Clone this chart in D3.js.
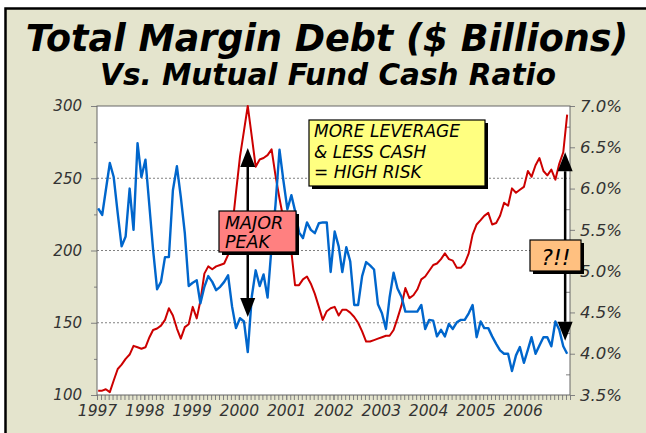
<!DOCTYPE html>
<html>
<head>
<meta charset="utf-8">
<script src="https://cdn.jsdelivr.net/npm/d3@7/dist/d3.min.js"></script>
<style>
    body { margin: 0; background: #fff; }
    svg text { font-family: "DejaVu Sans", Verdana, sans-serif; }
    .axe text { font-style: italic; fill: #333; }
    .axe line { stroke: #808080; }
    .axe path { display: none; }
</style>
</head>
<body>
<div id="chart"></div>
<script>
// données mensuelles, janvier 1997 -> décembre 2006
const annees = ["1997","1998","1999","2000","2001","2002","2003","2004","2005","2006"];

// dette sur marge totale ($ milliards) - axe gauche
const margeDette = [
    103,103,104,102,110,118,121,125,128,134,
    133,132,133,140,145,146,148,152,160,155,
    146,139,147,149,161,153,165,184,189,187,
    189,190,191,197,215,240,265,283,300,279,
    258,263,264,266,270,252,236,222,211,199,
    176,176,180,182,177,170,161,152,158,160,
    161,155,159,159,157,154,150,144,137,137,
    138,139,140,141,141,145,153,162,174,167,
    169,173,180,182,186,190,191,194,198,194,
    193,188,188,191,198,211,218,221,224,226,
    218,219,224,233,231,243,240,242,244,255,
    251,259,264,255,252,256,249,260,268,294
];

// ratio de liquidités des fonds mutuels (%) - axe droit
const ratioCash = [
    5.76,5.68,5.98,6.31,6.14,5.70,5.30,5.42,6.00,5.50,
    6.55,6.14,6.35,5.78,5.26,4.78,4.87,5.17,5.17,5.98,
    6.27,5.90,5.46,4.82,4.86,4.89,4.61,4.81,4.94,4.87,
    4.77,4.81,4.87,4.95,4.57,4.31,4.43,4.39,4.02,4.69,
    5.01,4.82,4.96,4.68,5.30,5.80,6.47,6.10,5.75,5.92,
    5.73,5.47,5.40,5.59,5.50,5.46,5.58,5.59,5.59,4.99,
    5.48,5.30,4.99,5.29,5.12,4.59,4.59,4.94,5.11,5.07,
    5.02,4.60,4.49,4.30,4.68,4.98,4.79,4.69,4.51,4.51,
    4.51,4.51,4.59,4.30,4.41,4.40,4.21,4.29,4.21,4.36,
    4.30,4.38,4.41,4.41,4.49,4.59,4.20,4.39,4.31,4.31,
    4.21,4.12,4.04,4.00,4.00,3.79,3.98,4.08,3.89,4.05,
    4.20,4.00,4.10,4.20,4.20,4.09,4.39,4.29,4.09,4.00
];

const ticksGauche = [100,150,200,250,300];
const ticksGaucheMineurs = [125,175,225,275];
const ticksDroite = [3.5,4.0,4.5,5.0,5.5,6.0,6.5,7.0];
const ticksDroiteMineurs = [3.75,4.25,4.75,5.25,5.75,6.25,6.75];
const grille = [150,200,250];

const debut = new Date(1997,0,10);
const mois = margeDette.map((d,i) => d3.timeMonth.offset(debut, i));

// zone du graphique
const G = 97, D = 570, H = 106, B = 395;

const svg = d3.select("#chart").append("svg")
    .attr("width",646).attr("height",433);

// fond et cadre
svg.append("rect").attr("width",646).attr("height",433).attr("fill","#fff");
svg.append("rect")
    .attr("x",5.5).attr("y",8.5).attr("width",700).attr("height",500)
    .attr("fill","#E4E4CD").attr("stroke","#000").attr("stroke-width",2.5);

// titres
svg.append("text").attr("x",327).attr("y",51)
    .attr("text-anchor","middle")
    .style("font-size","36.5px").style("font-weight","bold").style("font-style","italic")
    .text("Total Margin Debt ($ Billions)");
svg.append("text").attr("x",328).attr("y",85)
    .attr("text-anchor","middle")
    .style("font-size","29.5px").style("font-weight","bold").style("font-style","italic")
    .text("Vs. Mutual Fund Cash Ratio");

// échelles
const x = d3.scaleTime()
    .domain([new Date(1997,0,1), new Date(2007,0,1)])
    .range([G, D]);
const yG = d3.scaleLinear().domain([100,300]).range([B, H]);
const yD = d3.scaleLinear().domain([3.5,7.0]).range([B, H]);

svg.append("rect").attr("x",G).attr("y",H).attr("width",D-G).attr("height",B-H)
    .attr("fill","#fff");

// lignes de grille pointillées
svg.append("g").selectAll("line").data(grille).join("line")
    .attr("x1",G).attr("x2",D)
    .attr("y1",d => yG(d)).attr("y2",d => yG(d))
    .attr("stroke","#808080").attr("stroke-width",1).attr("stroke-dasharray","2,2");

// axes
svg.append("g").attr("class","axe").attr("transform",`translate(${G},0)`)
    .call(d3.axisLeft(yG).tickValues(ticksGauche).tickSize(6).tickPadding(9))
    .selectAll("text").style("font-size","15px");
svg.append("g").attr("class","axe").attr("transform",`translate(${G},0)`)
    .call(d3.axisLeft(yG).tickValues(ticksGaucheMineurs).tickSize(3).tickFormat(""));

svg.append("g").attr("class","axe").attr("transform",`translate(${D},0)`)
    .call(d3.axisRight(yD).tickValues(ticksDroite).tickSize(5).tickPadding(5)
        .tickFormat(d => d.toFixed(1) + "%"))
    .selectAll("text").style("font-size","16.5px");
svg.append("g").attr("class","axe").attr("transform",`translate(${D},0)`)
    .call(d3.axisRight(yD).tickValues(ticksDroiteMineurs).tickSize(-4).tickFormat(""));

svg.append("g").attr("class","axe").attr("transform",`translate(0,${B})`)
    .call(d3.axisBottom(x).ticks(d3.timeMonth.every(1)).tickSize(5).tickFormat(""));
svg.append("g").attr("class","axe").attr("transform",`translate(0,${B})`)
    .call(d3.axisBottom(x).tickValues(annees.map(a => new Date(+a,0,1)))
        .tickSize(5).tickPadding(5).tickFormat(d3.timeFormat("%Y")))
    .selectAll("text").style("font-size","15.5px");

// cadre du graphique
svg.append("rect").attr("x",G).attr("y",H).attr("width",D-G).attr("height",B-H)
    .attr("fill","none").attr("stroke","#666").attr("stroke-width",1);

// courbes
const ligneDette = d3.line().x((d,i) => x(mois[i])).y(d => yG(d));
const ligneCash = d3.line().x((d,i) => x(mois[i])).y(d => yD(d));

svg.append("path").datum(margeDette).attr("d",ligneDette)
    .attr("fill","none").attr("stroke","#CC0000").attr("stroke-width",2)
    .attr("stroke-linejoin","round");
svg.append("path").datum(ratioCash).attr("d",ligneCash)
    .attr("fill","none").attr("stroke","#0066CC").attr("stroke-width",2.4)
    .attr("stroke-linejoin","round");

// annotations
function boite(bx, by, bw, bh, couleur){
    svg.append("rect").attr("x",bx+3).attr("y",by+3).attr("width",bw).attr("height",bh)
        .attr("fill","#000");
    svg.append("rect").attr("x",bx).attr("y",by).attr("width",bw).attr("height",bh)
        .attr("fill",couleur).attr("stroke","#000").attr("stroke-width",1.2);
}
function fleche(ax, y0, yPointe){
    // trait vertical + pointe triangulaire
    const sens = yPointe < y0 ? 1 : -1;
    const base = yPointe + sens*19;
    svg.append("line").attr("x1",ax).attr("x2",ax).attr("y1",y0).attr("y2",base)
        .attr("stroke","#000").attr("stroke-width",2.5);
    svg.append("path")
        .attr("d",`M${ax},${yPointe}L${ax-7.5},${base}L${ax+7.5},${base}Z`)
        .attr("fill","#000");
}
function texte(tx, ty, t, taille, ancre){
    svg.append("text").attr("x",tx).attr("y",ty)
        .attr("text-anchor",ancre || "start")
        .style("font-size",taille).style("font-style","italic").attr("fill","#000")
        .text(t);
}

// MAJOR PEAK (mars 2000)
const xPic = x(mois[38]);
fleche(xPic, 211, yG(271));
fleche(xPic, 252, yG(154));
boite(219, 211, 77, 41, "#FF8080");
texte(225, 228.5, "MAJOR", "17.5px");
texte(225, 247.5, "PEAK", "17.5px");

// MORE LEVERAGE
boite(309, 120, 176, 66, "#FFFF80");
texte(314, 137, "MORE LEVERAGE", "17px");
texte(314, 158, "& LESS CASH", "17px");
texte(314, 178, "= HIGH RISK", "17px");

// ?!! (fin 2006)
const xFin = x(mois[mois.length-1]) - 2;
fleche(xFin, 240, yG(268));
fleche(xFin, 271, yG(137.5));
boite(530, 240, 51, 31, "#FFC080");
texte(556, 265, "?!!", "22px", "middle");
</script>
</body>
</html>
